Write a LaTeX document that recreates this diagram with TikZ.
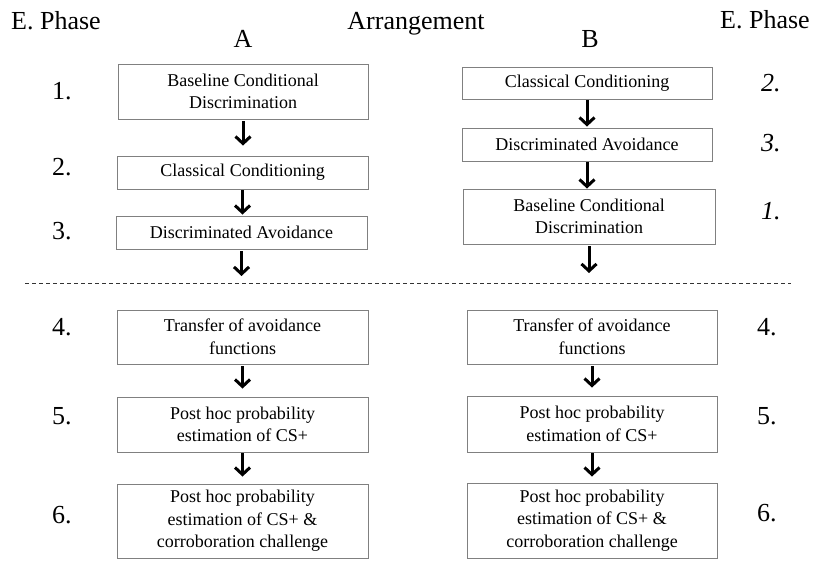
\documentclass[tikz,border=0pt]{standalone}
\usepackage{fontspec}
\setmainfont{Liberation Serif}
\usetikzlibrary{arrows.meta}
\begin{document}
\begin{tikzpicture}[x=1pt,y=-1pt,
  boxstyle/.style={draw=black!50, line width=0.9pt, inner sep=0pt, align=center,
    font=\fontsize{18}{22.5}\selectfont},
  head/.style={font=\fontsize{26}{30}\selectfont, inner sep=0pt, anchor=base west},
  headc/.style={font=\fontsize{26}{30}\selectfont, inner sep=0pt, anchor=base},
  flow/.style={line width=3pt, -{Straight Barb[length=7pt,width=15pt,line width=3pt]}},
  sep/.style={black!80, line width=0.8pt, dash pattern=on 4pt off 3pt}]
\useasboundingbox (0,0) rectangle (816,561);

% headers
\node[head] (ephl) at (11,30) {E. Phase};
\node[headc] (arr) at (416,30) {Arrangement};
\node[headc] (colA) at (243,48) {A};
\node[headc] (colB) at (590,48) {B};
\node[head] (ephr) at (720,29) {E. Phase};

% column A boxes
\node[boxstyle, minimum width=250pt, minimum height=55pt] (A1) at (243,91.5) {Baseline Conditional\\Discrimination};
\node[boxstyle, minimum width=251pt, minimum height=33pt] (A2) at (242.5,172.5) {Classical Conditioning};
\node[boxstyle, minimum width=251pt, minimum height=33pt] (A3) at (241.5,232.5) {Discriminated Avoidance};
\node[boxstyle, minimum width=251pt, minimum height=54pt] (A4) at (242.5,337) {Transfer of avoidance\\functions};
\node[boxstyle, minimum width=251pt, minimum height=55pt] (A5) at (242.5,424.5) {Post hoc probability\\estimation of CS+};
\node[boxstyle, minimum width=251pt, minimum height=74pt] (A6) at (242.5,521) {Post hoc probability\\estimation of CS+ \&\\corroboration challenge};

% column B boxes
\node[boxstyle, minimum width=250pt, minimum height=32pt] (B1) at (587,83) {Classical Conditioning};
\node[boxstyle, minimum width=250pt, minimum height=33pt] (B2) at (587,144.5) {Discriminated Avoidance};
\node[boxstyle, minimum width=252pt, minimum height=55pt] (B3) at (589,216.5) {Baseline Conditional\\Discrimination};
\node[boxstyle, minimum width=250pt, minimum height=54pt] (B4) at (592,337) {Transfer of avoidance\\functions};
\node[boxstyle, minimum width=250pt, minimum height=56pt] (B5) at (592,424) {Post hoc probability\\estimation of CS+};
\node[boxstyle, minimum width=250pt, minimum height=75pt] (B6) at (592,520.5) {Post hoc probability\\estimation of CS+ \&\\corroboration challenge};

% phase numbers left
\node[head] (nl1) at (52,100) {1.};
\node[head] (nl2) at (52,176) {2.};
\node[head] (nl3) at (52,240) {3.};
\node[head] (nl4) at (52,335) {4.};
\node[head] (nl5) at (52,424) {5.};
\node[head] (nl6) at (52,523) {6.};

% phase numbers right
\node[head, font=\fontsize{26}{30}\selectfont\itshape] (nr2) at (761,92) {2.};
\node[head, font=\fontsize{26}{30}\selectfont\itshape] (nr3) at (761,152) {3.};
\node[head, font=\fontsize{26}{30}\selectfont\itshape] (nr1) at (761,220) {1.};
\node[head] (nr4) at (757,335) {4.};
\node[head] (nr5) at (757,424) {5.};
\node[head] (nr6) at (757,521) {6.};

% arrows column A
\draw[flow, shorten <=2pt, shorten >=10pt] (A1.south) -- (A1.south |- A2.north);
\draw[flow, shorten <=1pt, shorten >=1pt] (A2.south) -- (A2.south |- A3.north);
\coordinate (Aend) at (242,276);
\draw[flow, shorten <=2pt] (A3.south) -- (A3.south |- Aend);
\draw[flow, shorten <=2pt, shorten >=8pt] (A4.south) -- (A4.south |- A5.north);
\draw[flow, shorten <=1pt, shorten >=7pt] (A5.south) -- (A5.south |- A6.north);

% arrows column B
\draw[flow, shorten <=1pt, shorten >=1pt] (B1.south) -- (B1.south |- B2.north);
\draw[flow, shorten <=1pt, shorten >=0pt] (B2.south) -- (B2.south |- B3.north);
\coordinate (Bend) at (589,273);
\draw[flow, shorten <=2pt] (B3.south) -- (B3.south |- Bend);
\draw[flow, shorten <=2pt, shorten >=8pt] (B4.south) -- (B4.south |- B5.north);
\draw[flow, shorten <=1pt, shorten >=6pt] (B5.south) -- (B5.south |- B6.north);

% separator
\coordinate (sl) at (25,283);
\coordinate (sr) at (791,283);
\draw[sep] (sl) -- (sr);
\end{tikzpicture}
\end{document}
